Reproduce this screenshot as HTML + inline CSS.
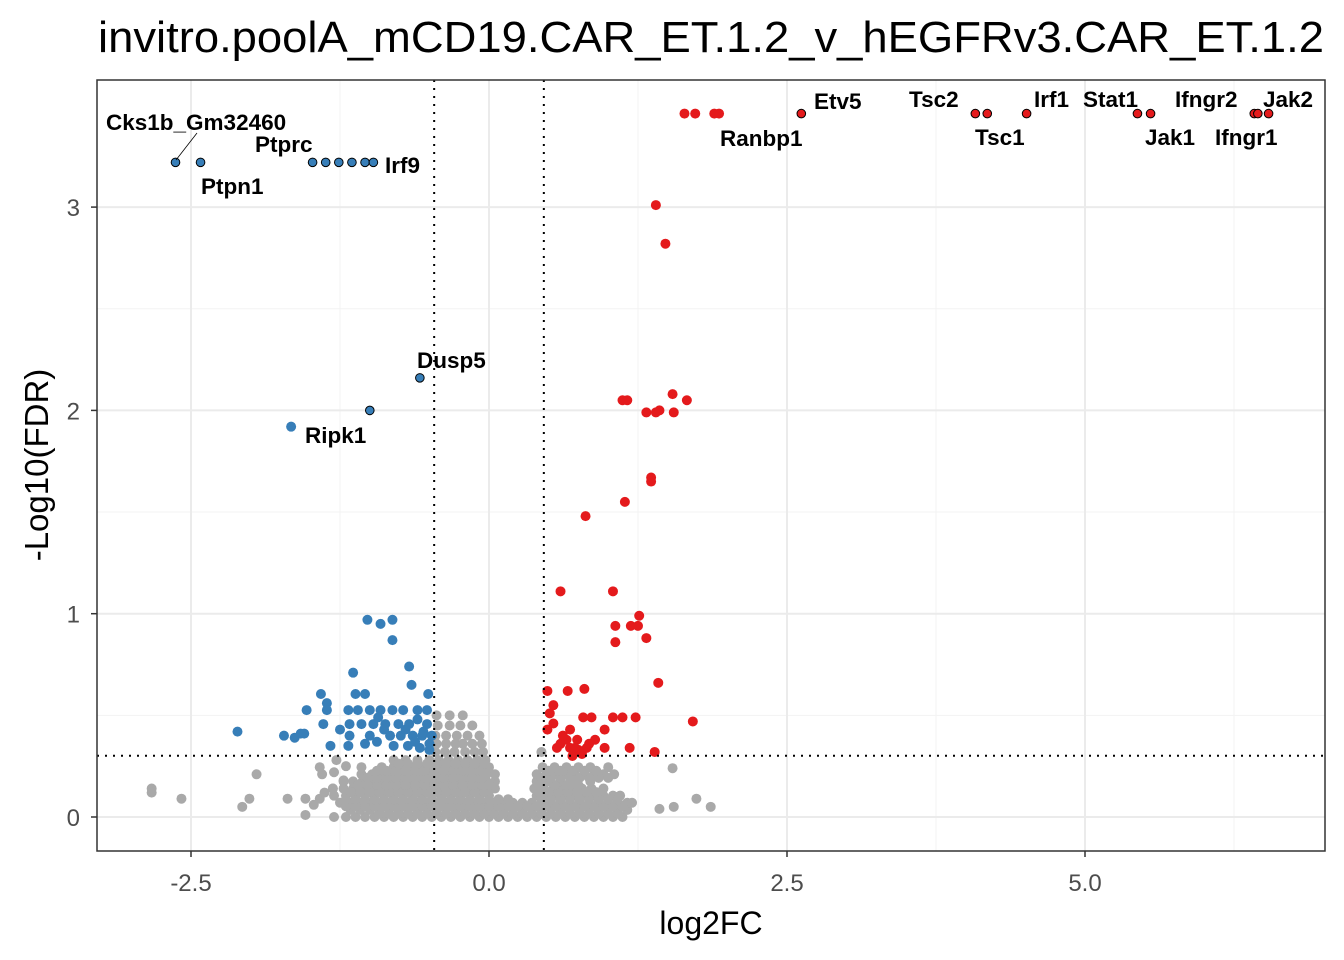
<!DOCTYPE html>
<html><head><meta charset="utf-8"><style>
html,body{margin:0;padding:0;background:#fff;}
svg{display:block;font-family:"Liberation Sans",Arial,sans-serif;}
</style></head><body>
<svg id="chart" width="1344" height="960"></svg>
<script>
const upX=[1.64,1.73,1.89,1.93,2.62,4.08,4.18,4.51,5.44,5.55,6.42,6.45,6.54,1.40,1.48,1.54,1.66,1.12,1.16,1.32,1.40,1.43,1.55,1.36,1.36,1.14,0.81,0.60,1.04,1.26,1.06,1.19,1.25,1.06,1.32,1.42,0.49,0.66,0.80,0.54,0.51,0.54,0.79,0.86,1.04,1.12,1.23,1.71,0.49,0.68,0.97,0.65,0.74,0.89,0.57,0.68,0.82,0.97,1.18,1.39,0.70,0.60,0.75,0.84,0.62,0.72,0.78];
const upY=[3.46,3.46,3.46,3.46,3.46,3.46,3.46,3.46,3.46,3.46,3.46,3.46,3.46,3.01,2.82,2.08,2.05,2.05,2.05,1.99,1.99,2.0,1.99,1.67,1.65,1.55,1.48,1.11,1.11,0.99,0.94,0.94,0.94,0.86,0.88,0.66,0.62,0.62,0.63,0.55,0.51,0.46,0.49,0.49,0.49,0.49,0.49,0.47,0.43,0.43,0.43,0.38,0.38,0.38,0.34,0.34,0.34,0.34,0.34,0.32,0.30,0.36,0.33,0.36,0.40,0.34,0.31];
const upOutlined=[4,5,6,7,8,9,10,11,12];
const downX=[-2.63,-2.42,-1.48,-1.37,-1.26,-1.15,-1.04,-0.97,-0.58,-1.0,-1.66,-1.02,-0.91,-0.81,-0.81,-1.14,-0.67,-2.11,-1.63,-1.58,-0.65,-1.41,-1.12,-1.04,-0.51,-1.36,-1.53,-1.36,-1.18,-1.10,-1.0,-0.91,-0.81,-0.72,-0.60,-0.52,-1.39,-1.17,-1.07,-0.97,-0.87,-0.76,-0.67,-0.52,-1.72,-1.55,-1.17,-1.0,-0.83,-0.74,-0.64,-0.56,-0.48,-1.33,-1.18,-1.04,-0.80,-0.68,-0.58,-0.50,-0.94,-0.60,-0.88,-0.70,-0.62,-0.55,-0.50,-1.25,-0.93];
const downY=[3.22,3.22,3.22,3.22,3.22,3.22,3.22,3.22,2.16,2.0,1.92,0.97,0.95,0.97,0.87,0.71,0.74,0.42,0.39,0.41,0.65,0.605,0.605,0.605,0.605,0.56,0.526,0.526,0.526,0.526,0.526,0.526,0.526,0.526,0.526,0.526,0.457,0.457,0.457,0.457,0.457,0.457,0.457,0.457,0.40,0.41,0.40,0.40,0.40,0.40,0.40,0.40,0.40,0.35,0.35,0.36,0.35,0.35,0.34,0.33,0.37,0.48,0.43,0.43,0.37,0.42,0.36,0.43,0.49];
const downOutlined=[0,1,2,3,4,5,6,7,8,9];
const grayRowY=[0.0,0.035,0.07,0.105,0.14,0.175,0.21,0.245,0.28,0.32,0.36,0.40,0.45,0.5,0.0175,0.0525,0.0875,0.1225,0.1575,0.1925,0.2275,0.2625];
const grayRowX=[
[-1.3,-1.2,-1.12,-1.04,-0.96,-0.88,-0.8,-0.72,-0.64,-0.56,-0.48,-0.4,-0.32,-0.24,-0.16,-0.08,0,0.08,0.16,0.24,0.32,0.4,0.48,0.56,0.64,0.72,0.8,0.88,0.96,1.04,1.12],
[-1.16,-1.08,-1.0,-0.92,-0.84,-0.76,-0.68,-0.6,-0.52,-0.44,-0.36,-0.28,-0.2,-0.12,-0.04,0.04,0.12,0.2,0.28,0.36,0.44,0.52,0.6,0.68,0.76,0.84,0.92,1.0,1.08,1.16],
[-1.25,-1.17,-1.09,-1.0,-0.92,-0.84,-0.76,-0.68,-0.6,-0.52,-0.44,-0.36,-0.28,-0.2,-0.12,-0.04,0.04,0.12,0.2,0.28,0.36,0.44,0.52,0.6,0.68,0.76,0.84,0.92,1.0,1.08,1.16,1.2],
[-1.3,-1.2,-1.12,-1.04,-0.96,-0.88,-0.8,-0.72,-0.64,-0.56,-0.48,-0.4,-0.32,-0.24,-0.16,-0.08,0.0,0.4,0.48,0.56,0.64,0.72,0.8,0.88,0.96,1.04,1.1],
[-1.31,-1.22,-1.14,-1.06,-0.98,-0.9,-0.82,-0.74,-0.66,-0.58,-0.5,-0.42,-0.34,-0.26,-0.18,-0.1,-0.02,0.05,0.38,0.46,0.54,0.62,0.7,0.78,0.86,0.96],
[-1.22,-1.14,-1.06,-0.98,-0.9,-0.82,-0.74,-0.66,-0.58,-0.5,-0.42,-0.34,-0.26,-0.18,-0.1,-0.02,0.05,0.4,0.5,0.6,0.7,0.85],
[-1.4,-1.07,-0.98,-0.9,-0.82,-0.74,-0.66,-0.58,-0.5,-0.42,-0.34,-0.26,-0.18,-0.1,-0.02,0.05,0.4,0.48,0.56,0.64,0.72,0.8,0.88,0.96,1.05],
[-1.42,-1.07,-0.9,-0.8,-0.72,-0.64,-0.56,-0.48,-0.4,-0.32,-0.24,-0.16,-0.08,0.0,0.45,0.55,0.65,0.75,0.85,1.0],
[-1.28,-0.8,-0.7,-0.6,-0.5,-0.42,-0.34,-0.26,-0.18,-0.1,-0.03],
[-0.45,-0.37,-0.29,-0.2,-0.12,-0.05,0.44],
[-0.44,-0.36,-0.28,-0.22,-0.14,-0.06],
[-0.45,-0.36,-0.27,-0.18,-0.08],
[-0.43,-0.33,-0.24,-0.14],
[-0.44,-0.33,-0.22],
[-0.92,-0.84,-0.76,-0.68,-0.6,-0.52,-0.44,-0.36,-0.28,-0.2,-0.12,-0.04,0.04,0.12,0.2,0.28,0.36,0.44,0.52,0.6,0.68,0.76,0.84,0.92,1.0,1.08],
[-1.2,-1.12,-1.04,-0.96,-0.88,-0.8,-0.72,-0.64,-0.56,-0.48,-0.4,-0.32,-0.24,-0.16,-0.08,0,0.08,0.16,0.24,0.32,0.4,0.48,0.56,0.64,0.72,0.8,0.88,0.96,1.04,1.12],
[-1.2,-1.12,-1.04,-0.96,-0.88,-0.8,-0.72,-0.64,-0.56,-0.48,-0.4,-0.32,-0.24,-0.16,-0.08,0,0.08,0.16,0.44,0.52,0.6,0.68,0.76,0.84,0.92,1.0,1.08],
[-1.16,-1.08,-1.0,-0.92,-0.84,-0.76,-0.68,-0.6,-0.52,-0.44,-0.36,-0.28,-0.2,-0.12,-0.04,0.42,0.5,0.58,0.66,0.74,0.82,0.9],
[-1.1,-1.02,-0.94,-0.86,-0.78,-0.7,-0.62,-0.54,-0.46,-0.38,-0.3,-0.22,-0.14,-0.06,0.0,0.45,0.55,0.65,0.75],
[-1.02,-0.94,-0.86,-0.78,-0.7,-0.62,-0.54,-0.46,-0.38,-0.3,-0.22,-0.14,-0.06,0.44,0.52,0.6,0.68,0.76,0.84,0.92,1.0],
[-0.94,-0.86,-0.78,-0.7,-0.62,-0.54,-0.46,-0.38,-0.3,-0.22,-0.14,-0.06,0.5,0.6,0.7,0.8,0.9],
[-0.76,-0.68,-0.6,-0.52,-0.44,-0.36,-0.28,-0.2,-0.12,-0.04]];
const grayExtraX=[-2.83,-2.83,-2.58,-2.07,-1.95,-2.01,-1.69,-1.54,-1.54,-1.47,-1.42,-1.31,-1.22,1.54,1.43,1.55,1.74,1.86,-1.38,-1.3,-1.2];
const grayExtraY=[0.14,0.12,0.09,0.05,0.21,0.09,0.09,0.09,0.01,0.06,0.09,0.14,0.18,0.24,0.04,0.05,0.09,0.05,0.12,0.22,0.25];
const xTicks=[-2.5,0,2.5,5];
const xTickLabels=["-2.5","0.0","2.5","5.0"];
const yTicks=[0,1,2,3];
const yTickLabels=["0","1","2","3"];
const labels=[["Cks1b_Gm32460",106,122],["Ptprc",255,144],["Irf9",385,165],["Ptpn1",201,186],["Dusp5",417,360],["Ripk1",305,435],["Etv5",814,101],["Ranbp1",720,138],["Tsc2",909,99],["Tsc1",975,137],["Irf1",1034,99],["Stat1",1083,99],["Jak1",1145,137],["Ifngr2",1175,99],["Ifngr1",1215,137],["Jak2",1263,99]];

const NS="http://www.w3.org/2000/svg";
const svg=document.getElementById('chart');
const L=97,R=1325,T=80,B=851;
const sx=v=>489+v*119.2;
const sy=v=>817-v*203.3;
function mk(tag,attrs,parent){const e=document.createElementNS(NS,tag);for(const k in attrs)e.setAttribute(k,attrs[k]);(parent||svg).appendChild(e);return e;}

const grid=mk('g',{});


[-1.25,1.25,3.75,6.25].forEach(v=>mk('line',{x1:sx(v),x2:sx(v),y1:T,y2:B,stroke:'#f3f3f3','stroke-width':1},grid));
[0.5,1.5,2.5].forEach(v=>mk('line',{x1:L,x2:R,y1:sy(v),y2:sy(v),stroke:'#f3f3f3','stroke-width':1},grid));
xTicks.forEach(v=>mk('line',{x1:sx(v),x2:sx(v),y1:T,y2:B,stroke:'#ebebeb','stroke-width':2},grid));
yTicks.forEach(v=>mk('line',{x1:L,x2:R,y1:sy(v),y2:sy(v),stroke:'#ebebeb','stroke-width':2},grid));

const pts=mk('g',{});


grayRowY.forEach((y,i)=>grayRowX[i].forEach(x=>{
  const c=mk('circle',{cx:sx(x),cy:sy(y),r:5,fill:'#a9a9a9'},pts);
  
  
}));
grayExtraX.forEach((x,i)=>{
  const c=mk('circle',{cx:sx(x),cy:sy(grayExtraY[i]),r:5,fill:'#a9a9a9'},pts);
  
  
});

const thr=mk('g',{});


[-0.46,0.46].forEach(v=>mk('line',{x1:sx(v),x2:sx(v),y1:T,y2:B,stroke:'#000','stroke-width':2,'stroke-dasharray':'2,6'},thr));
mk('line',{x1:L,x2:R,y1:sy(0.301),y2:sy(0.301),stroke:'#000','stroke-width':2,'stroke-dasharray':'2,6'},thr);

downX.forEach((x,i)=>{
  const o=downOutlined.includes(i);
  const c=mk('circle',{cx:sx(x),cy:sy(downY[i]),r:o?4.3:5,fill:'#377eb8',stroke:o?'#000':'none','stroke-width':1},pts);
  
  
});
upX.forEach((x,i)=>{
  const o=upOutlined.includes(i);
  const c=mk('circle',{cx:sx(x),cy:sy(upY[i]),r:o?4.3:5,fill:'#e41a1c',stroke:o?'#000':'none','stroke-width':1},pts);
  
  
});

mk('line',{x1:176,y1:160,x2:197,y2:133,stroke:'#000','stroke-width':0.8});
labels.forEach(l=>{
  const t=mk('text',{x:l[1],y:l[2]+8,'font-size':22.5,'font-weight':'bold',fill:'#000'});
  t.textContent=l[0];
  
  
});

const frame=mk('rect',{x:L,y:T,width:R-L,height:B-T,fill:'none',stroke:'#333','stroke-width':1.5});



xTicks.forEach((v,i)=>{
  mk('line',{x1:sx(v),x2:sx(v),y1:B,y2:B+6,stroke:'#333','stroke-width':1.5});
  const t=mk('text',{x:sx(v),y:891,'font-size':24,fill:'#4d4d4d','text-anchor':'middle'});
  t.textContent=xTickLabels[i];
  
  
});
yTicks.forEach((v,i)=>{
  mk('line',{x1:L-6,x2:L,y1:sy(v),y2:sy(v),stroke:'#333','stroke-width':1.5});
  const t=mk('text',{x:80,y:sy(v)+9,'font-size':24,fill:'#4d4d4d','text-anchor':'end'});
  t.textContent=yTickLabels[i];
  
  
});
const xt=mk('text',{x:711,y:934,'font-size':32,fill:'#000','text-anchor':'middle'});
xt.textContent='log2FC';


const yt=mk('text',{x:0,y:0,'font-size':33,fill:'#000','text-anchor':'middle',transform:'translate(48,465) rotate(-90)'});
yt.textContent='-Log10(FDR)';


const tt=mk('text',{x:98,y:52,'font-size':44,fill:'#000',textLength:1226,lengthAdjust:'spacingAndGlyphs'});
tt.textContent='invitro.poolA_mCD19.CAR_ET.1.2_v_hEGFRv3.CAR_ET.1.2';


</script>
</body></html>
